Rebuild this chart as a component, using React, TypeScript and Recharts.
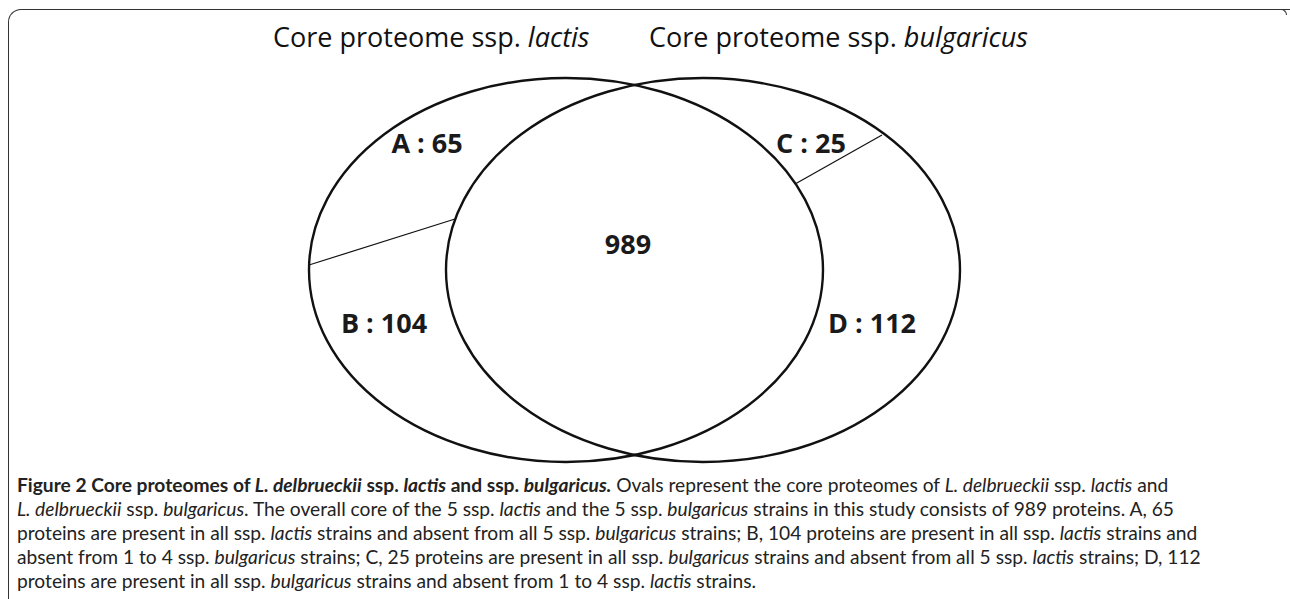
import React from 'react';
import { ScatterChart, Scatter, XAxis, YAxis, ReferenceLine } from 'recharts';

// Venn data: two core proteomes, four exclusive regions and the shared core
const setNames = ['lactis', 'bulgaricus'];
const regionNames = ['A', 'B', 'C', 'D'];
const regionCounts = [65, 104, 25, 112];
const coreCount = 989;

// layout, in chart units (1 unit = 1px with the domains below)
const CHART_W = 1290;
const CHART_H = 470;
const ovalCenters = [{ x: 566, y: 270 }, { x: 703, y: 270 }];
const OVAL_RX = 257;
const OVAL_RY = 192;
const regionSpots = [{ x: 427, y: 142 }, { x: 384, y: 322 }, { x: 811, y: 142 }, { x: 872, y: 322 }];
const coreSpot = { x: 628, y: 243 };
const dividers = [
  [{ x: 309, y: 265 }, { x: 455, y: 219 }],
  [{ x: 882, y: 135 }, { x: 796, y: 183.5 }],
];

const FONT = '"Open Sans", Lato, sans-serif';
const CAPTION_FONT = 'Lato, "Open Sans", sans-serif';

const ovalData = ovalCenters.map((c, i) => ({ ...c, name: setNames[i] }));
const labelData = [
  ...regionNames.map((n, i) => ({ ...regionSpots[i], text: `${n} : ${regionCounts[i]}` })),
  { ...coreSpot, text: String(coreCount) },
];

// unit -> px factors (domain equals plot size here)
const kx = CHART_W / CHART_W;
const ky = CHART_H / CHART_H;

const Oval = (props: any) => (
  <ellipse cx={props.cx} cy={props.cy} rx={OVAL_RX * kx} ry={OVAL_RY * ky}
    fill="none" stroke="#111" strokeWidth={2.4} />
);

const RegionLabel = (props: any) => (
  <text x={props.cx} y={props.cy} textAnchor="middle" dominantBaseline="central"
    fontFamily={FONT} fontWeight={700} fontSize={27} fill="#1a1a1a">
    {props.payload.text}
  </text>
);

const I = ({ children }: { children: React.ReactNode }) => <i>{children}</i>;

const App = () => {
  return (
    <div style={{ position: 'absolute', left: 0, top: 0, width: 1290, height: 599, background: '#fff', overflow: 'hidden', fontFamily: FONT }}>
      {/* frame */}
      <div style={{ position: 'absolute', left: 8, top: 9, width: 1300, height: 620, borderTop: '1.6px solid #333', borderLeft: '1.6px solid #333', borderTopLeftRadius: 13 }} />
      <div style={{ position: 'absolute', left: 1276, top: 9, width: 10, height: 5, borderTop: '1.6px solid #333', borderRight: '1.6px solid #333', borderTopRightRadius: 6 }} />

      <div style={{ position: 'absolute', left: 0, top: 0 }}>
        <ScatterChart width={CHART_W} height={CHART_H} margin={{ top: 0, right: 0, bottom: 0, left: 0 }}>
          <XAxis type="number" dataKey="x" domain={[0, CHART_W]} hide />
          <YAxis type="number" dataKey="y" domain={[0, CHART_H]} reversed hide />
          <Scatter data={ovalData} shape={Oval} isAnimationActive={false} />
          {dividers.map((seg, i) => (
            <ReferenceLine key={i} segment={seg} stroke="#111" strokeWidth={1.2} ifOverflow="visible" />
          ))}
          <Scatter data={labelData} shape={RegionLabel} isAnimationActive={false} />
        </ScatterChart>
      </div>

      {/* set titles */}
      <div style={{ position: 'absolute', left: 273, top: 21.5, fontSize: 27, color: '#111', whiteSpace: 'nowrap', lineHeight: '30px' }}>
        Core proteome ssp. <I>{setNames[0]}</I>
      </div>
      <div style={{ position: 'absolute', right: 1290 - 1028, top: 21.5, fontSize: 27, color: '#111', whiteSpace: 'nowrap', lineHeight: '30px' }}>
        Core proteome ssp. <I>{setNames[1]}</I>
      </div>

      {/* caption */}
      <div style={{ position: 'absolute', left: 17, top: 473, fontFamily: CAPTION_FONT, fontSize: 19.2, lineHeight: '24px', color: '#222', whiteSpace: 'nowrap' }}>
        <b>Figure 2 Core proteomes of <I>L. delbrueckii</I> ssp. <I>lactis</I> and ssp. <I>bulgaricus.</I></b> Ovals represent the core proteomes of <I>L. delbrueckii</I> ssp. <I>lactis</I> and<br />
        <I>L. delbrueckii</I> ssp. <I>bulgaricus</I>. The overall core of the 5 ssp. <I>lactis</I> and the 5 ssp. <I>bulgaricus</I> strains in this study consists of 989 proteins. A, 65<br />
        proteins are present in all ssp. <I>lactis</I> strains and absent from all 5 ssp. <I>bulgaricus</I> strains; B, 104 proteins are present in all ssp. <I>lactis</I> strains and<br />
        absent from 1 to 4 ssp. <I>bulgaricus</I> strains; C, 25 proteins are present in all ssp. <I>bulgaricus</I> strains and absent from all 5 ssp. <I>lactis</I> strains; D, 112<br />
        proteins are present in all ssp. <I>bulgaricus</I> strains and absent from 1 to 4 ssp. <I>lactis</I> strains.
      </div>
    </div>
  );
};

export default App;
